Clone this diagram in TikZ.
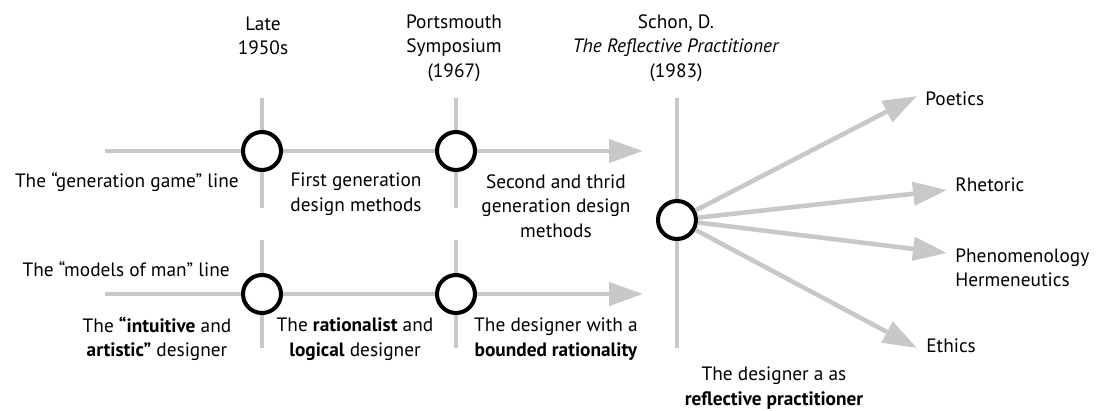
\documentclass[tikz,border=0pt]{standalone}
\usepackage{fontspec}
\setmainfont{PT Sans}
\usetikzlibrary{arrows.meta}

\definecolor{linegray}{RGB}{200,200,200}

\begin{document}
\begin{tikzpicture}[x=0.02cm,y=-0.02cm,
  track/.style={linegray, line width=2.6pt},
  trackarrow/.style={track, -{Triangle[length=0.68cm,width=0.46cm]}},
  event/.style={circle, draw=black, line width=2.3pt, fill=white, minimum size=0.76cm, inner sep=0pt},
  lbl/.style={align=center, inner sep=0pt, font=\fontsize{11}{13.9}\selectfont}]
\useasboundingbox (0,0) rectangle (1099,410);

% positions of the events
\coordinate (late) at (262,151);
\coordinate (ports) at (456,151);
\coordinate (lateB) at (262,294);
\coordinate (portsB) at (456,294);
\coordinate (schon) at (677,220);

% the two lines
\coordinate (genStart) at (105,151);
\coordinate (genEnd) at (643,151);
\coordinate (manStart) at (105,294);
\coordinate (manEnd) at (643,294);
\draw[trackarrow] (genStart) -- (genEnd);
\draw[trackarrow] (manStart) -- (manEnd);

% time marks
\draw[track] (262,98) -- (262,208);
\draw[track] (456,98) -- (456,208);
\draw[track] (262,240) -- (262,348);
\draw[track] (456,240) -- (456,348);
\draw[track] (677,98) -- (677,348);

\node[event] (c1) at (late) {};
\node[event] (c2) at (ports) {};
\node[event] (c4) at (lateB) {};
\node[event] (c5) at (portsB) {};
\node[event] (c3) at (schon) {};

% branches
\coordinate (tipPoe) at (917,96);
\coordinate (tipRhe) at (947,190);
\coordinate (tipPhe) at (947,253);
\coordinate (tipEth) at (917,348);
\draw[trackarrow] (c3) -- (tipPoe);
\draw[trackarrow] (c3) -- (tipRhe);
\draw[trackarrow] (c3) -- (tipPhe);
\draw[trackarrow] (c3) -- (tipEth);

\node[lbl, anchor=west] (poe) at (925,99) {Poetics};
\node[lbl, anchor=west] (rhe) at (955,185) {Rhetoric};
\node[lbl, anchor=west, align=left] (phe) at (955,268) {Phenomenology\\Hermeneutics};
\node[lbl, anchor=west] (eth) at (926,346) {Ethics};

% dates
\node[lbl] (t1) at (263,36) {Late\\1950s};
\node[lbl] (t2) at (454,48) {Portsmouth\\Symposium\\(1967)};
\node[lbl] (t3) at (676,48) {Schon, D.\\\textit{The Reflective Practitioner}\\(1983)};

% generation game line
\node[lbl, anchor=east] (gen) at (239,182) {The “generation game” line};
\node[lbl] (g1) at (356,194) {First generation\\design methods};
\node[lbl] (g2) at (556,206) {Second and thrid\\generation design\\methods};

% models of man line
\node[lbl, anchor=east] (man) at (230,269) {The “models of man” line};
\node[lbl] (m1) at (157,339) {The \textbf{“intuitive} and\\\textbf{artistic”} designer};
\node[lbl] (m2) at (355,339) {The \textbf{rationalist} and\\\textbf{logical} designer};
\node[lbl] (m3) at (556,339) {The designer with a\\\textbf{bounded rationality}};
\node[lbl] (m4) at (774,388) {The designer a as\\\textbf{reflective practitioner}};
\end{tikzpicture}
\end{document}
